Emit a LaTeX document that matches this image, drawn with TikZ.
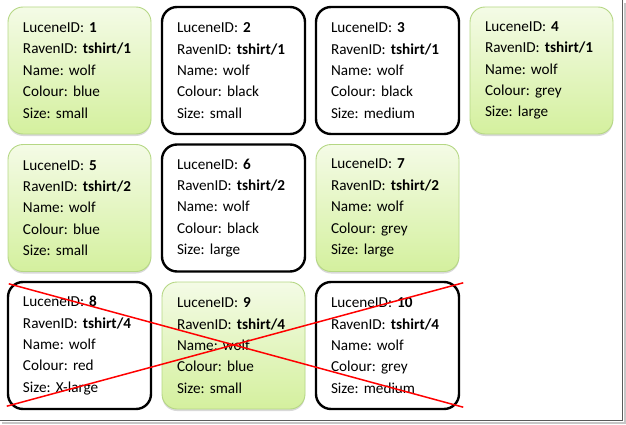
\documentclass[tikz,border=0pt]{standalone}
\usepackage{fontspec}
\setmainfont{Carlito}
\usetikzlibrary{positioning,calc,shadows}
\definecolor{leaf}{HTML}{B5D784}
\definecolor{leaftop}{HTML}{F4FBE6}
\definecolor{leafbot}{HTML}{D4F09E}
\definecolor{strike}{HTML}{FF0000}
\definecolor{frame}{HTML}{5A5A5A}
\frenchspacing
\tikzset{card/.style={rounded corners=15pt,minimum width=143pt,minimum height=127pt,text width=113pt,inner xsep=15pt,inner ysep=0pt,align=left,font=\fontsize{15.2}{21.4}\selectfont},greencard/.style={card,draw=leaf,line width=.9pt,top color=leaftop,bottom color=leafbot,drop shadow={shadow xshift=0pt,shadow yshift=-2pt,opacity=.25,fill=black!60}},blackcard/.style={card,draw=black,line width=2.4pt,fill=white},crossline/.style={strike,line width=1.5pt}}

\begin{document}
\begin{tikzpicture}[x=1pt,y=1pt]
\useasboundingbox (0,0) rectangle (626,424);
% frame of the screenshot
\draw[black!22,line width=2pt] (625,421) |- (2,1.2);
\draw[frame,line width=1.3pt] (622.6,424) |- (0,3.4);
% cards: name/col/row/style/raven/colour/size
\foreach \n/\c/\r/\st/\rid/\clr/\sz in {1/0/0/greencard/1/blue/small,2/1/0/blackcard/1/black/small,3/2/0/blackcard/1/black/medium,4/3/0/greencard/1/grey/large,5/0/1/greencard/2/blue/small,6/1/1/blackcard/2/black/large,7/2/1/greencard/2/grey/large,8/0/2/blackcard/4/red/X-large,9/1/2/greencard/4/blue/small,10/2/2/blackcard/4/grey/medium}
  \node[\st] (c\n) at (79.5+\c*154,353.5-\r*137.5) {LuceneID: \textbf{\n}\\RavenID: \textbf{tshirt/\rid}\\Name: wolf\\Colour: \clr\\Size: \sz};
% crossed out
\coordinate (x1) at ($(c8.north west)+(2,-3)$);
\coordinate (x2) at ($(c10.south east)+(3,3)$);
\coordinate (x3) at ($(c8.south west)+(0,4)$);
\coordinate (x4) at ($(c10.north east)+(3,-2)$);
\draw[crossline] (x1) -- (x2);
\draw[crossline] (x3) -- (x4);
\end{tikzpicture}
\end{document}
